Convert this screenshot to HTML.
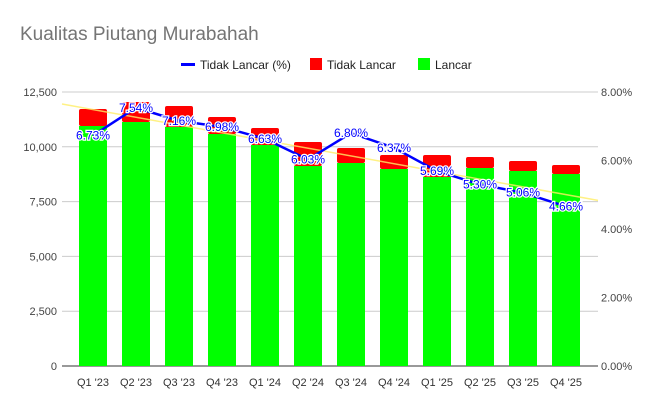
<!DOCTYPE html>
<html><head><meta charset="utf-8"><style>
body{margin:0;background:#fff;font-family:"Liberation Sans",Arial,sans-serif}
svg text{font-family:"Liberation Sans",Arial,sans-serif}
</style></head><body>
<svg id="chart" width="657" height="407" xmlns="http://www.w3.org/2000/svg">
<rect width="657" height="407" fill="#fff"/>
<text x="20" y="40" font-size="19" fill="#757575">Kualitas Piutang Murabahah</text>
<g font-size="12" fill="#222">
<g><rect x="181" y="63" width="14" height="3" fill="#0000ff"/><text x="200" y="69">Tidak Lancar (%)</text></g>
<g><rect x="310" y="58" width="12" height="12" fill="#ff0000"/><text x="327" y="69">Tidak Lancar</text></g>
<g><rect x="418" y="58" width="12" height="12" fill="#00ff00"/><text x="435" y="69">Lancar</text></g>
</g>
<g id="grid"></g><g id="bars"></g><g id="trend"></g><g id="line"></g><g id="labels"></g><g id="axes"></g>
</svg>
<script>
const categories=["Q1 '23","Q2 '23","Q3 '23","Q4 '23","Q1 '24","Q2 '24","Q3 '24","Q4 '24","Q1 '25","Q2 '25","Q3 '25","Q4 '25"];
const lancar=[10949,11131,10903,10584,10082,9124,9261,8987,8622,9033,8896,8759];
const tidakLancar=[775,913,958,775,776,1095,684,639,1004,502,456,411];
const pctTidakLancar=[6.73,7.54,7.16,6.98,6.63,6.03,6.80,6.37,5.69,5.30,5.06,4.66];
const leftTicks=[0,2500,5000,7500,10000,12500];
const rightTicks=[0,2,4,6,8];

const NS="http://www.w3.org/2000/svg";
const y0=366,yTop=92,x0=62,x1=598,first=93,step=43,bw=28;
const yL=v=>y0-v/12500*(y0-yTop);
const yR=p=>y0-p/8*(y0-yTop);
const xC=i=>first+i*step;
function mk(tag,attrs,parent,txt){const e=document.createElementNS(NS,tag);for(const k in attrs)e.setAttribute(k,attrs[k]);if(txt!==undefined)e.textContent=txt;document.getElementById(parent).appendChild(e);return e;}
const fmt=v=>v.toLocaleString('en-US');
leftTicks.forEach(t=>{
  const l=mk('line',{x1:x0,x2:x1,y1:yL(t),y2:yL(t),stroke:t===0?'#333':'#ccc','stroke-width':1},'grid');
  
  
  const tx=mk('text',{x:57,y:yL(t)+4,'text-anchor':'end','font-size':11,fill:'#444'},'axes',fmt(t));
  
  
});
rightTicks.forEach(t=>{
  const tx=mk('text',{x:601,y:yR(t)+4,'font-size':11,fill:'#444'},'axes',t.toFixed(2)+'%');
  
  
});
categories.forEach((c,i)=>{
  const x=xC(i)-bw/2;
  const g=mk('rect',{x:x,y:yL(lancar[i]),width:bw,height:y0-yL(lancar[i]),fill:'#00ff00'},'bars');
  
  
  const tot=lancar[i]+tidakLancar[i];
  const r=mk('rect',{x:x,y:yL(tot),width:bw,height:yL(lancar[i])-yL(tot),fill:'#ff0000',rx:2},'bars');
  
  
  const tx=mk('text',{x:xC(i),y:386,'text-anchor':'middle','font-size':11,fill:'#333'},'axes',c);
  
  
});
// trendline (linear regression)
const n=pctTidakLancar.length;let sx=0,sy=0,sxy=0,sxx=0;
pctTidakLancar.forEach((p,i)=>{sx+=i;sy+=p;sxy+=i*p;sxx+=i*i;});
const slope=(n*sxy-sx*sy)/(n*sxx-sx*sx),icp=(sy-slope*sx)/n;
const iA=(x0-first)/step,iB=(x1-first)/step;
const tl=mk('line',{x1:x0,y1:yR(icp+slope*iA),x2:x1,y2:yR(icp+slope*iB),stroke:'#ffee66','stroke-width':1.5,opacity:0.8},'trend');


const pts=pctTidakLancar.map((p,i)=>xC(i)+','+yR(p)).join(' ');
const pl=mk('polyline',{points:pts,fill:'none',stroke:'#0000ff','stroke-width':2.5,'stroke-linejoin':'round'},'line');


pctTidakLancar.forEach((p,i)=>{
  const t=mk('text',{x:xC(i),y:yR(p)+4,'text-anchor':'middle','font-size':12,fill:'#0000ff',stroke:'#fff','stroke-width':2.5,'paint-order':'stroke'},'labels',p.toFixed(2)+'%');
  
  
});
</script>
</body></html>
